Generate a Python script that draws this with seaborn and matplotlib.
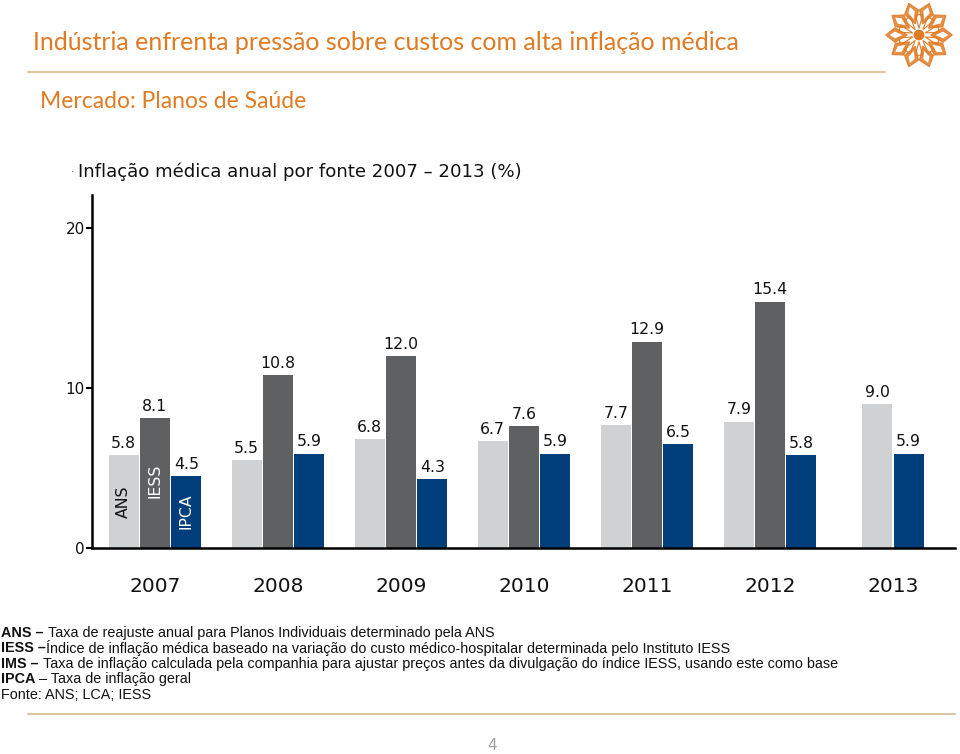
import numpy as np
import pandas as pd
import matplotlib
matplotlib.use("Agg")
import matplotlib.pyplot as plt
from matplotlib.lines import Line2D
from matplotlib.patches import Polygon, Circle
import seaborn as sns

# ---------------- data ----------------
years = ["2007", "2008", "2009", "2010", "2011", "2012", "2013"]
series = ["ANS", "IESS", "IPCA"]
ans = [5.8, 5.5, 6.8, 6.7, 7.7, 7.9, 9.0]
iess = [8.1, 10.8, 12.0, 7.6, 12.9, 15.4, np.nan]
ipca = [4.5, 5.9, 4.3, 5.9, 6.5, 5.8, 5.9]
yticks = [0, 10, 20]

colors = {"ANS": "#d0d1d3", "IESS": "#5f6062", "IPCA": "#003f7c"}
orange = "#e07b24"

# build long table, dodging bars within each year (centring groups with missing series)
step = 0.254
rows = []
for i, y in enumerate(years):
    vals = {"ANS": ans[i], "IESS": iess[i], "IPCA": ipca[i]}
    present = [s for s in series if not np.isnan(vals[s])]
    n = len(present)
    for j, s in enumerate(present):
        rows.append({"pos": i + (j - (n - 1) / 2) * step, "serie": s, "valor": vals[s], "ano": y})
df = pd.DataFrame(rows)

sns.set_theme(style="white")
plt.rcParams["font.family"] = ["DejaVu Sans"]

fig = plt.figure(figsize=(9.6, 7.54), dpi=100)
ax = fig.add_axes([92 / 960, 1 - 548 / 754, 863 / 960, 353 / 754])

sns.barplot(data=df, x="pos", y="valor", hue="serie", hue_order=series,
            palette=colors, native_scale=True, dodge=False, width=0.955,
            errorbar=None, legend=False, saturation=1, ax=ax, linewidth=0)

for cont in ax.containers:
    ax.bar_label(cont, fmt="%.1f", padding=3, fontsize=11.3, color="#111111")

ax.set_xlim(-0.512, 6.504)
ax.set_ylim(0, 22.06)
ax.set_xticks(range(len(years)))
ax.set_xticklabels(years, fontsize=14.5, color="#111111")
ax.set_yticks(yticks)
ax.set_yticklabels([str(t) for t in yticks], fontsize=11, color="#111111")
ax.tick_params(axis="x", length=0, pad=21)
ax.tick_params(axis="y", length=4, width=1.5, pad=1, left=True, color="black", direction="out")
ax.set_xlabel("")
ax.set_ylabel("")
sns.despine(ax=ax, top=True, right=True)
for sp in ["left", "bottom"]:
    ax.spines[sp].set_color("black")
    ax.spines[sp].set_linewidth(1.8)

# series names inside first group's bars
ax.text(-step, 2.9, "ANS", rotation=90, ha="center", va="center", fontsize=11.3, color="#111111")
ax.text(0, 4.2, "IESS", rotation=90, ha="center", va="center", fontsize=11.3, color="white")
ax.text(step, 2.3, "IPCA", rotation=90, ha="center", va="center", fontsize=11.3, color="white")

# ---------------- page elements ----------------
fig.text(33 / 960, 1 - 43 / 754, "Indústria enfrenta pressão sobre custos com alta inflação médica",
         fontsize=18, color=orange, family="Lato", va="center", ha="left")
fig.text(40 / 960, 1 - 101 / 754, "Mercado: Planos de Saúde",
         fontsize=16.5, color=orange, family="Lato", va="center", ha="left")
fig.add_artist(Line2D([28 / 960, 885 / 960], [1 - 72 / 754, 1 - 72 / 754],
                      color="#dcc6a6", linewidth=1.5, transform=fig.transFigure))
fig.add_artist(Line2D([28 / 960, 955 / 960], [1 - 714 / 754, 1 - 714 / 754],
                      color="#dcc6a6", linewidth=1.5, transform=fig.transFigure))
fig.text(492 / 960, 1 - 745 / 754, "4", fontsize=11, color="#a0a0a0", ha="center", va="center")

fig.text(73 / 960, 1 - 172 / 754, "·", fontsize=8, color="#555555", ha="center", va="center")
fig.text(78 / 960, 1 - 172 / 754, "Inflação médica anual por fonte 2007 – 2013 (%)",
         fontsize=13.1, color="#111111", ha="left", va="center")

# footnotes
notes = [("ANS – ", "Taxa de reajuste anual para Planos Individuais determinado pela ANS"),
         ("IESS –", "Índice de inflação médica baseado na variação do custo médico-hospitalar determinada pelo Instituto IESS"),
         ("IMS – ", "Taxa de inflação calculada pela companhia para ajustar preços antes da divulgação do índice IESS, usando este como base"),
         ("IPCA", " – Taxa de inflação geral"),
         ("", "Fonte: ANS; LCA; IESS")]
ys = [633, 648, 664, 679, 695]
for (b, r), yy in zip(notes, ys):
    t = fig.text(1 / 960, 1 - yy / 754, b, fontsize=10.4, fontweight="bold",
                 family="Liberation Sans", color="#111111", ha="left", va="center")
    ax.annotate(r, xy=(1, 0.5), xycoords=t, xytext=(0, 0), textcoords="offset points",
                fontsize=10.4, family="Liberation Sans", color="#111111", ha="left", va="center",
                annotation_clip=False)

# logo: simple orange rosette
lax = fig.add_axes([884 / 960, 1 - 70 / 754, 70 / 960, 70 / 754])
lax.set_xlim(-1.05, 1.05)
lax.set_ylim(-1.05, 1.05)
lax.set_aspect("equal")
lax.axis("off")
for k in range(10):
    a = 2 * np.pi * k / 10
    ca, sa = np.cos(a), np.sin(a)
    def rot(px, py):
        return (px * ca - py * sa, px * sa + py * ca)
    kite = [rot(0.35, 0), rot(0.72, 0.22), rot(1.0, 0), rot(0.72, -0.22)]
    lax.add_patch(Polygon(kite, closed=True, facecolor=orange, edgecolor=orange, alpha=0.85, lw=0.8))
    inner = [rot(0.5, 0), rot(0.72, 0.1), rot(0.88, 0), rot(0.72, -0.1)]
    lax.add_patch(Polygon(inner, closed=True, facecolor="white", edgecolor="none"))
    b2 = 2 * np.pi * (k + 0.5) / 10
    lax.add_patch(Polygon([(0.2 * np.cos(b2), 0.2 * np.sin(b2)),
                           (0.62 * np.cos(b2 - 0.18), 0.62 * np.sin(b2 - 0.18)),
                           (0.62 * np.cos(b2 + 0.18), 0.62 * np.sin(b2 + 0.18))],
                          closed=True, facecolor="none", edgecolor=orange, lw=0.8))
lax.add_patch(Circle((0, 0), 0.14, color=orange))

fig.savefig("out.png", dpi=100)
